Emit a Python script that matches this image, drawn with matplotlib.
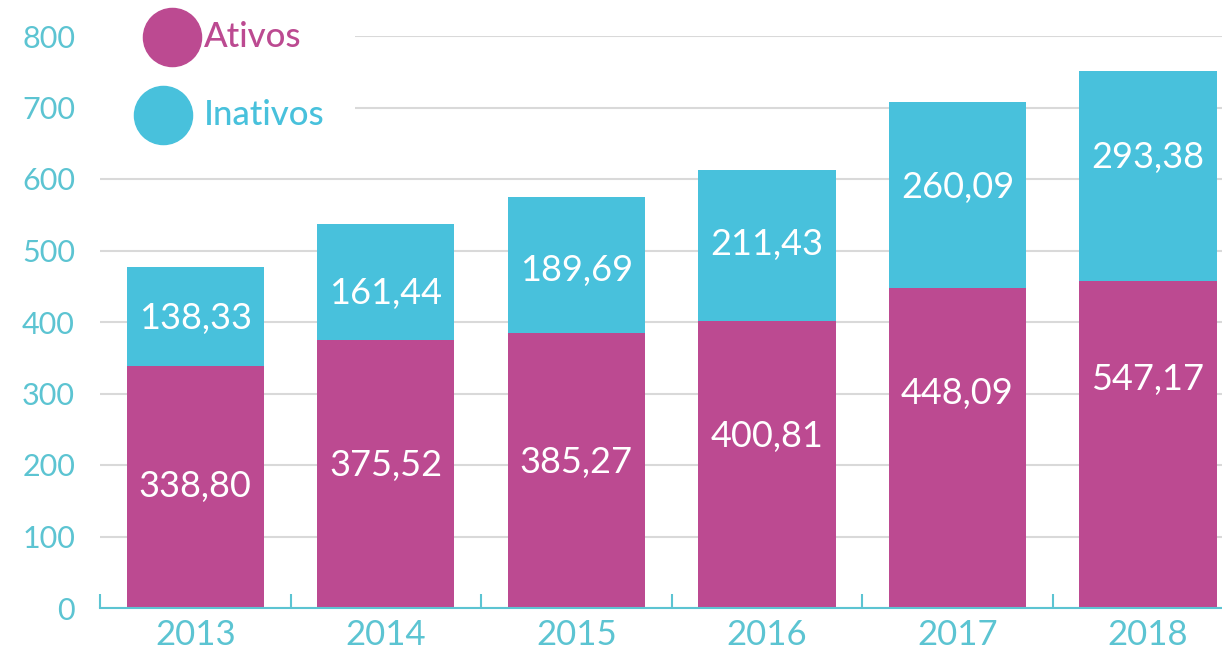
import matplotlib
matplotlib.use("Agg")
from matplotlib import pyplot as plt
from matplotlib.patches import Rectangle
import numpy as np

# dados (R$ bilhões)
anos = ["2013", "2014", "2015", "2016", "2017", "2018"]
ativos = [338.80, 375.52, 385.27, 400.81, 448.09, 457.17]
inativos = [138.33, 161.44, 189.69, 211.43, 260.09, 293.38]
# rótulos como aparecem na figura original (inclui o "547,17" do original)
rot_ativos = ["338,80", "375,52", "385,27", "400,81", "448,09", "547,17"]
rot_inativos = ["138,33", "161,44", "189,69", "211,43", "260,09", "293,38"]

# posição vertical dos rótulos (fração da altura de cada bloco)
pos_ativos = [0.50, 0.53, 0.53, 0.60, 0.67, 0.70]
pos_inativos = [0.48, 0.40, 0.46, 0.51, 0.54, 0.59]

cor_ativos = "#BC4A91"
cor_inativos = "#48C1DC"
cor_eixo = "#5CC4D2"
cor_grade = "#D9D9D9"

plt.rcParams['font.family'] = ['Lato', 'DejaVu Sans']

fig = plt.figure(figsize=(12.22, 6.6), dpi=100)
ax = fig.add_axes([100 / 1222, 1 - 608 / 660, 1 - 100 / 1222, (608 - 36) / 660])

x = np.arange(len(anos))
larg = 0.72
ax.bar(x, ativos, larg, color=cor_ativos, zorder=2)
ax.bar(x, inativos, larg, bottom=ativos, color=cor_inativos, zorder=2)

for i in range(len(anos)):
    ax.text(x[i], ativos[i] * pos_ativos[i], rot_ativos[i], color="white",
            ha="center", va="center", fontsize=26, zorder=3)
    ax.text(x[i], ativos[i] + inativos[i] * pos_inativos[i], rot_inativos[i],
            color="white", ha="center", va="center", fontsize=26, zorder=3)

ax.set_xlim(-0.5, 5 + (1222 - 1148) / 190.6)
ax.set_ylim(0, 800)
ax.set_yticks(np.arange(0, 801, 100))
ax.set_xticks(x)
ax.set_xticklabels(anos)
ax.set_xticks(np.arange(-0.5, 5.5, 1.0), minor=True)

ax.yaxis.grid(True, color=cor_grade, linewidth=1.5)
ax.set_axisbelow(True)
for s in ["top", "right", "left"]:
    ax.spines[s].set_visible(False)
ax.spines["bottom"].set_color(cor_eixo)
ax.spines["bottom"].set_linewidth(1.5)

ax.tick_params(axis="y", length=0, pad=18, labelsize=22, labelcolor=cor_eixo)
ax.tick_params(axis="x", which="major", length=0, pad=8, labelsize=25, labelcolor=cor_eixo)
ax.tick_params(axis="x", which="minor", direction="in", length=10, width=1.5, color=cor_eixo)

# legenda manual
ax.add_patch(Rectangle((100 / 1222, 1 - 140 / 660), 255 / 1222, 140 / 660,
                       transform=fig.transFigure, facecolor="white",
                       edgecolor="none", zorder=1, clip_on=False))
ax.scatter([172 / 1222], [1 - 37 / 660], s=1750, color=cor_ativos,
           transform=fig.transFigure, clip_on=False, zorder=4)
ax.scatter([163 / 1222], [1 - 115 / 660], s=1750, color=cor_inativos,
           transform=fig.transFigure, clip_on=False, zorder=4)
fig.text(204 / 1222, 1 - 37 / 660, "Ativos", color=cor_ativos, fontsize=25,
         va="center", ha="left", fontweight="medium")
fig.text(204 / 1222, 1 - 115 / 660, "Inativos", color=cor_inativos, fontsize=25,
         va="center", ha="left", fontweight="medium")

fig.savefig("out.png", dpi=100)
